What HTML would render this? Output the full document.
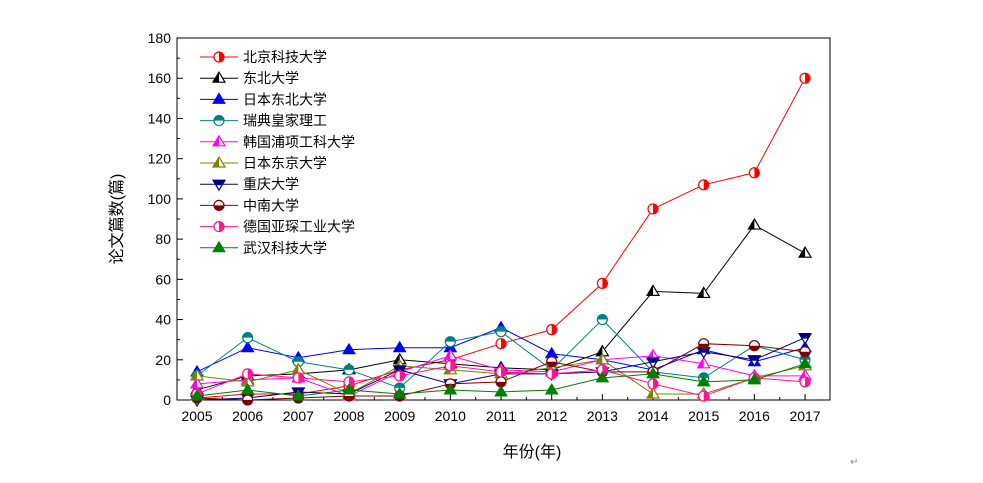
<!DOCTYPE html>
<html><head><meta charset="utf-8"><style>
html,body{margin:0;padding:0;background:#fff;}
svg text{font-family:"Liberation Sans","Noto Sans CJK SC",sans-serif;}
</style></head><body>
<svg id="s" width="983" height="478" xmlns="http://www.w3.org/2000/svg"></svg>
<script>
const S=document.getElementById('s');
let h='';
const X0=177,X1=830,Y0=38,Y1=400;
const xp=y=>197+(y-2005)*50.67, yp=v=>400-v*2.011;
h+=`<rect x="${X0}" y="${Y0}" width="${X1-X0}" height="${Y1-Y0}" fill="none" stroke="#000" stroke-width="1"/>`;
for(let v=0;v<=180;v+=10){const y=yp(v);const L=v%20==0?6:3;h+=`<line x1="${X0}" y1="${y}" x2="${X0+L}" y2="${y}" stroke="#000"/>`;
if(v%20==0)h+=`<text x="${X0-6}" y="${y+5}" font-size="14" text-anchor="end">${v}</text>`;}
for(let yr=2005;yr<=2017;yr++){const x=xp(yr);h+=`<line x1="${x}" y1="${Y1}" x2="${x}" y2="${Y1-6}" stroke="#000"/>`;
if(yr<2017)h+=`<line x1="${x+25.3}" y1="${Y1}" x2="${x+25.3}" y2="${Y1-3}" stroke="#000"/>`;
h+=`<text x="${x}" y="${Y1+21}" font-size="14" text-anchor="middle">${yr}</text>`;}
h+=`<text x="532" y="457" font-size="16" text-anchor="middle">年份(年)</text>`;
h+=`<text transform="translate(122,219) rotate(-90)" font-size="16" text-anchor="middle">论文篇数(篇)</text>`;
h+=`<text x="850" y="465" font-size="10" fill="#888">↵</text>`;
const D=[
["北京科技大学","#ff0000","hc",[1,3,3,7,15,20,28,35,58,95,107,113,160]],
["东北大学","#000000","to",[5,12,13,15,20,18,16,15,24,54,53,87,73]],
["日本东北大学","#0000ff","tf",[14,26,21,25,26,26,36,23,20,15,25,19,26]],
["瑞典皇家理工","#008080","ct",[12,31,19,15,6,29,34,15,40,14,11,27,20]],
["韩国浦项工科大学","#ff00ff","th",[8,10,11,2,14,22,15,14,20,22,18,12,12]],
["日本东京大学","#808000","th",[12,9,15,3,17,15,13,16,20,3,3,11,17]],
["重庆大学","#000080","td",[0,1,4,3,15,8,13,13,14,19,24,20,31]],
["中南大学","#800000","cb",[1,0,1,2,2,8,9,19,14,14,28,27,24]],
["德国亚琛工业大学","#ff1493","hc",[3,13,11,9,12,17,14,13,15,8,2,11,9]],
["武汉科技大学","#008000","tf",[2,5,2,5,3,5,4,5,11,13,9,10,18]]];
function mk(t,c,x,y){const r=5;
if(t=="hc")return `<circle cx="${x}" cy="${y}" r="${r}" fill="#fff" stroke="${c}" stroke-width="1.2"/><path d="M${x} ${y-r}A${r} ${r} 0 0 1 ${x} ${y+r}Z" fill="${c}"/>`;
if(t=="ct")return `<circle cx="${x}" cy="${y}" r="${r}" fill="#fff" stroke="${c}" stroke-width="1.2"/><path d="M${x-r} ${y}A${r} ${r} 0 0 1 ${x+r} ${y}Z" fill="${c}"/>`;
if(t=="cb")return `<circle cx="${x}" cy="${y}" r="${r}" fill="#fff" stroke="${c}" stroke-width="1.2"/><path d="M${x-r} ${y}A${r} ${r} 0 0 0 ${x+r} ${y}Z" fill="${c}"/>`;
const p=`${x},${y-6} ${x+6},${y+4} ${x-6},${y+4}`;
if(t=="tf")return `<polygon points="${p}" fill="${c}" stroke="${c}"/>`;
if(t=="to")return `<polygon points="${p}" fill="#fff" stroke="${c}" stroke-width="1.2"/><polygon points="${x},${y-6} ${x-6},${y+4} ${x},${y+4}" fill="${c}"/>`;
if(t=="th")return `<polygon points="${p}" fill="#fff" stroke="${c}" stroke-width="1.2"/><polygon points="${x},${y-6} ${x-6},${y+4} ${x},${y+4}" fill="${c}"/>`;
if(t=="td")return `<polygon points="${x-6},${y-4} ${x+6},${y-4} ${x},${y+6}" fill="#fff" stroke="${c}" stroke-width="1.2"/><polygon points="${x-6},${y-4} ${x+6},${y-4} ${x+3},${y+1} ${x-3},${y+1}" fill="${c}"/>`;}
D.forEach((d,i)=>{const pts=d[3].map((v,k)=>[xp(2005+k),yp(v)]);
h+=`<polyline points="${pts.map(p=>p.join(',')).join(' ')}" fill="none" stroke="${d[1]}" stroke-width="1"/>`;
pts.forEach(p=>h+=mk(d[2],d[1],p[0],p[1]));
const ly=57+i*21.2;
h+=`<line x1="200" y1="${ly}" x2="238" y2="${ly}" stroke="${d[1]}"/>`+mk(d[2],d[1],219,ly);
h+=`<text x="243" y="${ly+5}" font-size="14">${d[0]}</text>`;});
S.innerHTML=h;
</script>
</body></html>
